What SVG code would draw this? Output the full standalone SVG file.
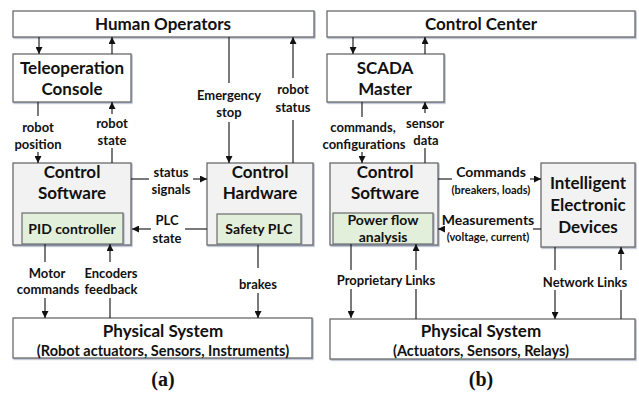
<svg xmlns="http://www.w3.org/2000/svg" width="639" height="396" viewBox="0 0 639 396">
<defs>
<filter id="sh" x="-5%" y="-5%" width="110%" height="120%">
<feDropShadow dx="1" dy="1.2" stdDeviation="0.7" flood-color="#8a96b0" flood-opacity="0.7"/>
</filter>
<marker id="ah" viewBox="0 0 10 10" refX="10" refY="5" markerWidth="7" markerHeight="7" markerUnits="userSpaceOnUse" orient="auto">
<path d="M0,0 L10,5 L0,10 Z" fill="#111"/>
</marker>
<style>
.box{fill:#fff;stroke:#6a6a6a;stroke-width:1.3;filter:url(#sh)}
.gbox{fill:#f2f2f2;stroke:#6a6a6a;stroke-width:1.3;filter:url(#sh)}
.grn{fill:#e2efda;stroke:#6a6a6a;stroke-width:1.2;filter:url(#sh)}
text{font-family:Lato,"Liberation Sans",sans-serif;font-weight:bold;fill:#111;text-anchor:middle}
.t{font-size:17px}
.s{font-size:13px}
.m{font-size:14px}
.p{font-size:14.5px}
.xs{font-size:11px}
.cap{font-family:"Liberation Serif",serif;font-size:20px}
#conn line{stroke:#222;stroke-width:1.2}
#conn line.a{marker-end:url(#ah)}
</style>
</defs>

<g id="human-operators"><rect class="box" x="13" y="11" width="301" height="26"/><text class="t" x="163" y="30">Human Operators</text></g>
<g id="teleop"><rect class="box" x="13" y="54" width="118" height="48"/><text class="t" x="72" y="74">Teleoperation</text><text class="t" x="72" y="95">Console</text></g>
<g id="control-software-a"><rect class="gbox" x="13" y="163" width="118" height="82"/><text class="t" x="72" y="178">Control</text><text class="t" x="72" y="199">Software</text></g>
<g id="pid"><rect class="grn" x="22" y="213" width="101" height="31"/><text class="m" x="72" y="234">PID controller</text></g>
<g id="control-hardware"><rect class="gbox" x="207" y="163" width="106" height="82"/><text class="t" x="260" y="178">Control</text><text class="t" x="260" y="199">Hardware</text></g>
<g id="safety-plc"><rect class="grn" x="217" y="214" width="84" height="30"/><text class="m" x="259" y="234">Safety PLC</text></g>
<g id="physical-a"><rect class="box" x="13" y="318" width="299" height="40"/><text class="t" x="163" y="337">Physical System</text><text class="p" x="163" y="356">(Robot actuators, Sensors, Instruments)</text></g>
<text class="cap" x="163" y="386">(a)</text>

<g id="control-center"><rect class="box" x="327" y="11" width="308" height="26"/><text class="t" x="481" y="30">Control Center</text></g>
<g id="scada"><rect class="box" x="327" y="54" width="117" height="48"/><text class="t" x="385" y="74">SCADA</text><text class="t" x="385" y="95">Master</text></g>
<g id="control-software-b"><rect class="gbox" x="330" y="163" width="108" height="82"/><text class="t" x="385" y="178">Control</text><text class="t" x="385" y="199">Software</text></g>
<g id="power-flow"><rect class="grn" x="333" y="213" width="100" height="31"/><text class="m" x="383" y="225">Power flow</text><text class="m" x="383" y="242">analysis</text></g>
<g id="ied"><rect class="gbox" x="541" y="163" width="94" height="84"/><text class="t" x="588" y="189">Intelligent</text><text class="t" x="588" y="211">Electronic</text><text class="t" x="588" y="233">Devices</text></g>
<g id="physical-b"><rect class="box" x="330" y="319" width="305" height="40"/><text class="t" x="481" y="337">Physical System</text><text class="p" x="481" y="356">(Actuators, Sensors, Relays)</text></g>
<text class="cap" x="481" y="386">(b)</text>

<g id="conn">
<line class="a" x1="39" y1="37" x2="39" y2="54"/>
<line class="a" x1="112" y1="54" x2="112" y2="37"/>
<line x1="229" y1="37" x2="229" y2="83"/>
<line class="a" x1="229" y1="122" x2="229" y2="163"/>
<line class="a" x1="293" y1="78" x2="293" y2="37"/>
<line x1="293" y1="120" x2="293" y2="163"/>
<line x1="38" y1="102" x2="38" y2="116"/>
<line class="a" x1="38" y1="152" x2="38" y2="163"/>
<line class="a" x1="112" y1="114" x2="112" y2="102"/>
<line x1="112" y1="148" x2="112" y2="163"/>
<line x1="131" y1="179" x2="149" y2="179"/>
<line class="a" x1="193" y1="179" x2="207" y2="179"/>
<line x1="207" y1="229" x2="185" y2="229"/>
<line class="a" x1="151" y1="229" x2="132" y2="229"/>
<line x1="45" y1="244" x2="45" y2="262"/>
<line class="a" x1="45" y1="298" x2="45" y2="318"/>
<line class="a" x1="110" y1="262" x2="110" y2="244"/>
<line x1="110" y1="298" x2="110" y2="318"/>
<line x1="258" y1="245" x2="258" y2="268"/>
<line class="a" x1="258" y1="293" x2="258" y2="318"/>

<line class="a" x1="353" y1="37" x2="353" y2="54"/>
<line class="a" x1="425" y1="54" x2="425" y2="37"/>
<line x1="362" y1="102" x2="362" y2="117"/>
<line class="a" x1="362" y1="152" x2="362" y2="163"/>
<line class="a" x1="425" y1="113" x2="425" y2="102"/>
<line x1="425" y1="148" x2="425" y2="163"/>
<line x1="438" y1="179" x2="452" y2="179"/>
<line class="a" x1="530" y1="179" x2="541" y2="179"/>
<line x1="541" y1="229" x2="533" y2="229"/>
<line class="a" x1="445" y1="229" x2="438" y2="229"/>
<line x1="351" y1="244" x2="351" y2="270"/>
<line class="a" x1="351" y1="289" x2="351" y2="318"/>
<line class="a" x1="416" y1="270" x2="416" y2="244"/>
<line x1="416" y1="289" x2="416" y2="319"/>
<line x1="555" y1="247" x2="555" y2="270"/>
<line class="a" x1="555" y1="290" x2="555" y2="319"/>
<line class="a" x1="621" y1="270" x2="621" y2="247"/>
<line x1="621" y1="290" x2="621" y2="319"/>
</g>

<g id="labels">
<text class="s" x="229" y="100">Emergency</text><text class="s" x="229" y="117">stop</text>
<text class="s" x="293" y="94">robot</text><text class="s" x="293" y="112">status</text>
<text class="s" x="38" y="132">robot</text><text class="s" x="38" y="149">position</text>
<text class="s" x="112" y="128">robot</text><text class="s" x="112" y="145">state</text>
<text class="s" x="171" y="177">status</text><text class="s" x="171" y="194">signals</text>
<text class="s" x="167" y="225">PLC</text><text class="s" x="167" y="243">state</text>
<text class="s" x="47" y="278">Motor</text><text class="s" x="48" y="294">commands</text>
<text class="s" x="111" y="278">Encoders</text><text class="s" x="111" y="294">feedback</text>
<text class="s" x="258" y="289">brakes</text>
<text class="s" x="363" y="132">commands,</text><text class="s" x="364" y="149">configurations</text>
<text class="s" x="425" y="128">sensor</text><text class="s" x="426" y="145">data</text>
<text class="m" x="491" y="177">Commands</text><text class="xs" x="491" y="194">(breakers, loads)</text>
<text class="m" x="488" y="225">Measurements</text><text class="xs" x="488" y="241">(voltage, current)</text>
<text class="s" x="386" y="285">Proprietary Links</text>
<text class="s" x="585" y="287">Network Links</text>
</g>
</svg>
